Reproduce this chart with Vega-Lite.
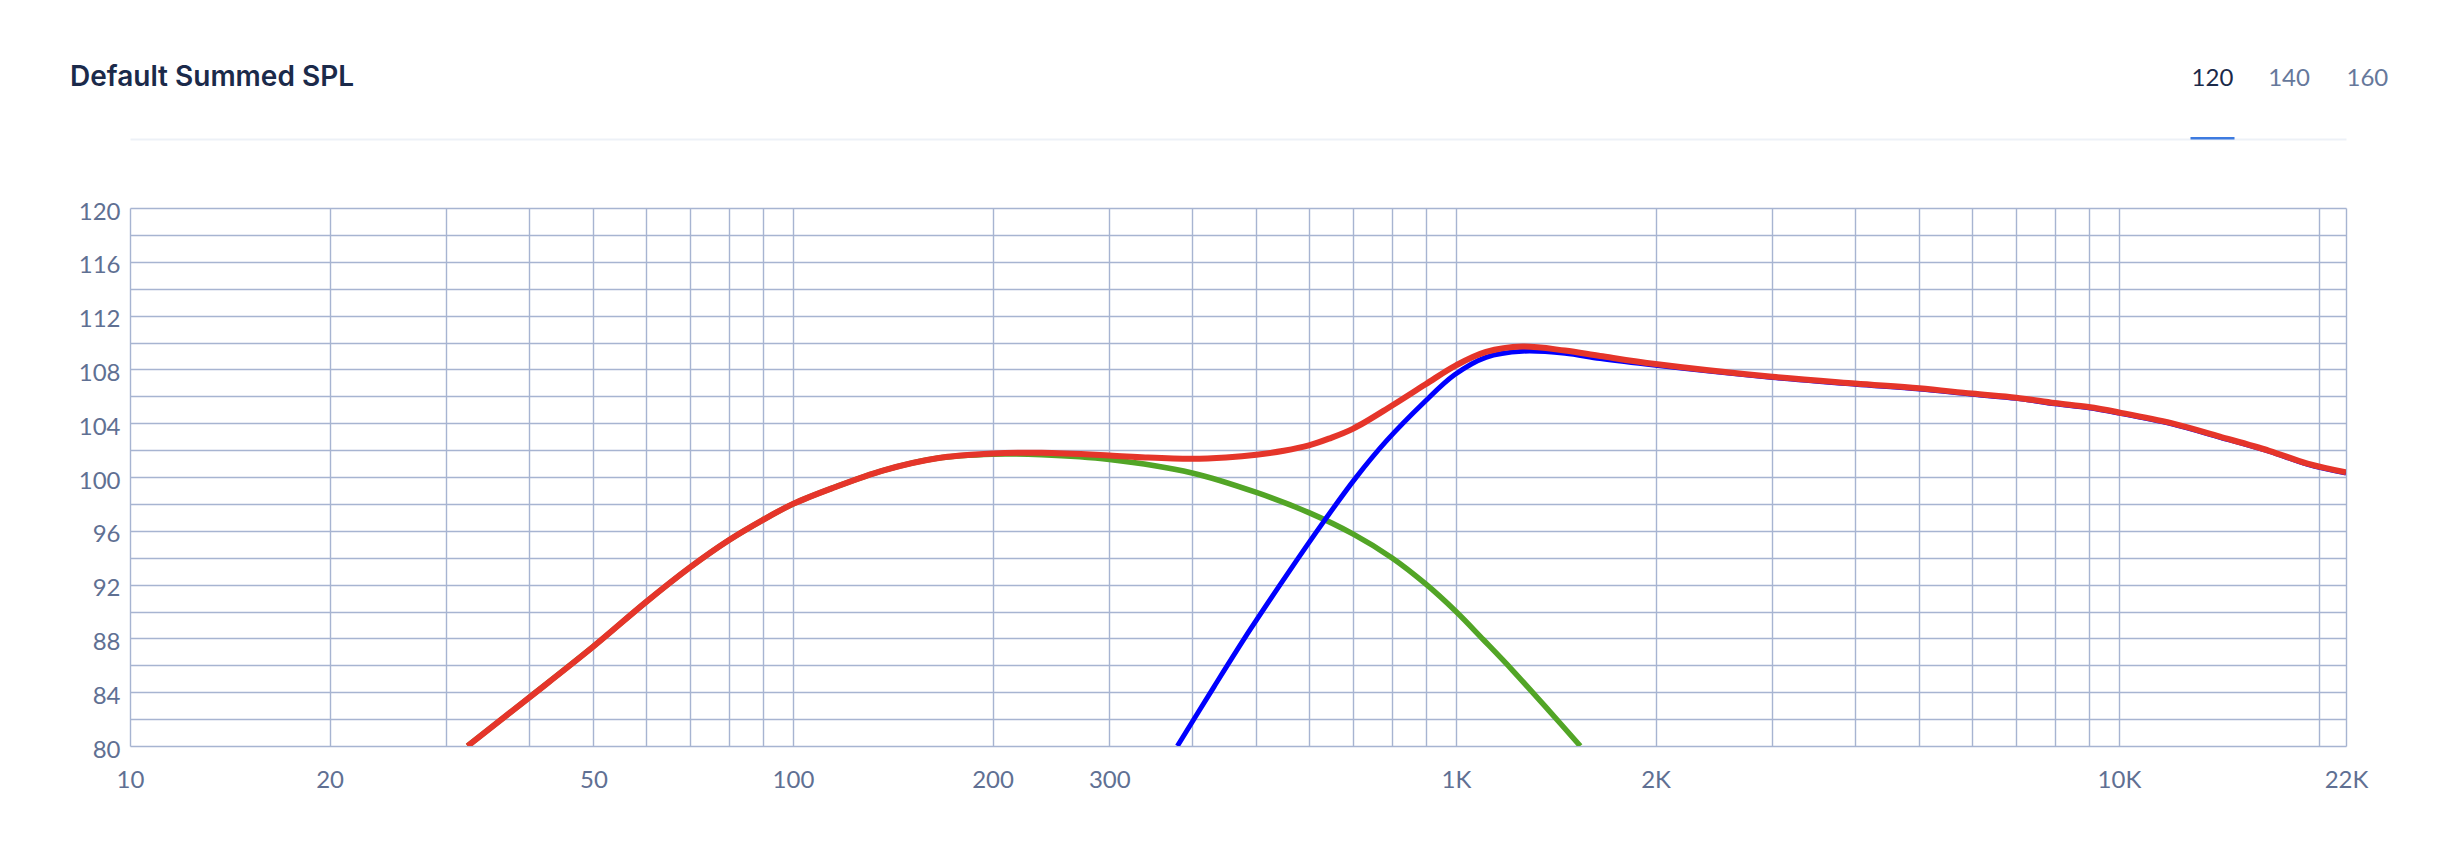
{
  "$schema": "https://vega.github.io/schema/vega-lite/v6.json",
  "width": 2216,
  "height": 538,
  "autosize": {"type": "none"},
  "padding": {"left": 130, "top": 208, "right": 116, "bottom": 114},
  "background": "#ffffff",
  "title": {"text": "Default Summed SPL", "anchor": "start", "frame": "group", "dx": -60, "offset": -48, "font": "Inter", "fontSize": 28, "fontWeight": 600, "color": "#1b2a4a", "baseline": "alphabetic"},
  "config": {"view": {"stroke": null}, "font": "Lato"},
  "data": {"values": [
    {"s": "low", "f": 32.3, "db": 80.0},
    {"s": "low", "f": 40, "db": 83.6},
    {"s": "low", "f": 50, "db": 87.4},
    {"s": "low", "f": 60, "db": 90.7},
    {"s": "low", "f": 70, "db": 93.3},
    {"s": "low", "f": 80, "db": 95.3},
    {"s": "low", "f": 90, "db": 96.8},
    {"s": "low", "f": 100, "db": 98.0},
    {"s": "low", "f": 115, "db": 99.2},
    {"s": "low", "f": 137, "db": 100.5},
    {"s": "low", "f": 165, "db": 101.4},
    {"s": "low", "f": 200, "db": 101.7},
    {"s": "low", "f": 237, "db": 101.65},
    {"s": "low", "f": 300, "db": 101.3},
    {"s": "low", "f": 400, "db": 100.3},
    {"s": "low", "f": 500, "db": 98.85},
    {"s": "low", "f": 600, "db": 97.35},
    {"s": "low", "f": 700, "db": 95.75},
    {"s": "low", "f": 800, "db": 94.0},
    {"s": "low", "f": 900, "db": 92.05},
    {"s": "low", "f": 1000, "db": 90.0},
    {"s": "low", "f": 1100, "db": 87.9},
    {"s": "low", "f": 1216, "db": 85.65},
    {"s": "low", "f": 1380, "db": 82.65},
    {"s": "low", "f": 1540, "db": 80.0},
    {"s": "high", "f": 380, "db": 80.0},
    {"s": "high", "f": 431.5, "db": 84.4},
    {"s": "high", "f": 490, "db": 88.7},
    {"s": "high", "f": 557, "db": 92.8},
    {"s": "high", "f": 632, "db": 96.7},
    {"s": "high", "f": 705, "db": 99.9},
    {"s": "high", "f": 786, "db": 102.7},
    {"s": "high", "f": 893, "db": 105.5},
    {"s": "high", "f": 995, "db": 107.6},
    {"s": "high", "f": 1110, "db": 108.9},
    {"s": "high", "f": 1260, "db": 109.35},
    {"s": "high", "f": 1460, "db": 109.2},
    {"s": "high", "f": 1650, "db": 108.8},
    {"s": "high", "f": 2000, "db": 108.3},
    {"s": "high", "f": 3000, "db": 107.4},
    {"s": "high", "f": 4000, "db": 106.9},
    {"s": "high", "f": 5000, "db": 106.55},
    {"s": "high", "f": 6000, "db": 106.15},
    {"s": "high", "f": 7000, "db": 105.85},
    {"s": "high", "f": 8000, "db": 105.45},
    {"s": "high", "f": 9000, "db": 105.15},
    {"s": "high", "f": 10000, "db": 104.75},
    {"s": "high", "f": 12000, "db": 103.95},
    {"s": "high", "f": 14200, "db": 102.95},
    {"s": "high", "f": 16850, "db": 101.9},
    {"s": "high", "f": 19250, "db": 100.95},
    {"s": "high", "f": 22000, "db": 100.3},
    {"s": "sum", "f": 32.3, "db": 80.0},
    {"s": "sum", "f": 40, "db": 83.6},
    {"s": "sum", "f": 50, "db": 87.4},
    {"s": "sum", "f": 60, "db": 90.7},
    {"s": "sum", "f": 70, "db": 93.3},
    {"s": "sum", "f": 80, "db": 95.3},
    {"s": "sum", "f": 90, "db": 96.8},
    {"s": "sum", "f": 100, "db": 98.0},
    {"s": "sum", "f": 115, "db": 99.2},
    {"s": "sum", "f": 137, "db": 100.5},
    {"s": "sum", "f": 165, "db": 101.4},
    {"s": "sum", "f": 200, "db": 101.75},
    {"s": "sum", "f": 237, "db": 101.8},
    {"s": "sum", "f": 300, "db": 101.6},
    {"s": "sum", "f": 340, "db": 101.45},
    {"s": "sum", "f": 400, "db": 101.35},
    {"s": "sum", "f": 450, "db": 101.45},
    {"s": "sum", "f": 500, "db": 101.65},
    {"s": "sum", "f": 550, "db": 101.95},
    {"s": "sum", "f": 600, "db": 102.35},
    {"s": "sum", "f": 643, "db": 102.85},
    {"s": "sum", "f": 700, "db": 103.6},
    {"s": "sum", "f": 800, "db": 105.3},
    {"s": "sum", "f": 900, "db": 106.9},
    {"s": "sum", "f": 1000, "db": 108.3},
    {"s": "sum", "f": 1110, "db": 109.3},
    {"s": "sum", "f": 1260, "db": 109.7},
    {"s": "sum", "f": 1460, "db": 109.4},
    {"s": "sum", "f": 1650, "db": 109.0},
    {"s": "sum", "f": 2000, "db": 108.4},
    {"s": "sum", "f": 3000, "db": 107.45},
    {"s": "sum", "f": 4000, "db": 106.95},
    {"s": "sum", "f": 5000, "db": 106.6},
    {"s": "sum", "f": 6000, "db": 106.2},
    {"s": "sum", "f": 7000, "db": 105.9},
    {"s": "sum", "f": 8000, "db": 105.5},
    {"s": "sum", "f": 9000, "db": 105.2},
    {"s": "sum", "f": 10000, "db": 104.8},
    {"s": "sum", "f": 12000, "db": 104.0},
    {"s": "sum", "f": 14200, "db": 103.0},
    {"s": "sum", "f": 16850, "db": 101.95},
    {"s": "sum", "f": 19250, "db": 101.0},
    {"s": "sum", "f": 22000, "db": 100.35}
  ]},
  "resolve": {"axis": {"x": "independent", "y": "independent"}},
  "layer": [
    {
      "transform": [{"filter": "datum.s === 'low'"}],
      "mark": {"type": "line", "color": "#52a526", "strokeWidth": 5.5, "interpolate": "catmull-rom", "clip": true},
      "encoding": {
        "x": {"field": "f", "type": "quantitative", "scale": {"type": "log", "domain": [10, 22000], "nice": false},
          "axis": {"orient": "bottom", "title": null,
            "values": [10,20,30,40,50,60,70,80,90,100,200,300,400,500,600,700,800,900,1000,2000,3000,4000,5000,6000,7000,8000,9000,10000,20000,22000],
            "labelExpr": "indexof([10,20,50,100,200,300,1000,2000,10000,22000], datum.value) >= 0 ? (datum.value >= 1000 ? (datum.value / 1000) + 'K' : '' + datum.value) : ''",
            "grid": true, "gridColor": "#a7b4d1", "gridWidth": 1.4, "ticks": false, "tickSize": 0, "domain": false,
            "labelFont": "Lato", "labelFontSize": 24, "labelColor": "#5f7093", "labelBaseline": "alphabetic", "labelPadding": 41,
            "labelFlush": false, "labelOverlap": false, "labelBound": false}},
        "y": {"field": "db", "type": "quantitative", "scale": {"domain": [80, 120], "nice": false, "zero": false},
          "axis": {"title": null, "values": [80,82,84,86,88,90,92,94,96,98,100,102,104,106,108,110,112,114,116,118,120],
            "labelExpr": "datum.value % 4 === 0 ? datum.label : ''",
            "grid": true, "gridColor": "#a7b4d1", "gridWidth": 1.4, "ticks": false, "tickSize": 0, "domain": false,
            "labelFont": "Lato", "labelFontSize": 24, "labelColor": "#5f7093", "labelPadding": 10, "labelOffset": 4,
            "labelOverlap": false, "labelBound": false, "labelFlush": false}}
      }
    },
    {
      "transform": [{"filter": "datum.s === 'high'"}],
      "mark": {"type": "line", "color": "#0000ff", "strokeWidth": 5, "interpolate": "catmull-rom", "clip": true},
      "encoding": {
        "x": {"field": "f", "type": "quantitative", "scale": {"type": "log", "domain": [10, 22000], "nice": false},
          "axis": {"orient": "top", "title": null, "offset": 69, "domain": true, "domainColor": "#edf1f7", "domainWidth": 2,
            "ticks": false, "labels": false, "grid": false}},
        "y": {"field": "db", "type": "quantitative", "scale": {"domain": [80, 120], "nice": false, "zero": false}, "axis": null}
      }
    },
    {
      "transform": [{"filter": "datum.s === 'sum'"}],
      "mark": {"type": "line", "color": "#e5352a", "strokeWidth": 6, "interpolate": "catmull-rom", "clip": true},
      "encoding": {
        "x": {"field": "f", "type": "quantitative", "scale": {"type": "log", "domain": [10, 22000], "nice": false},
          "axis": {"orient": "top", "title": null, "values": [13810, 18020, 22000],
            "labelExpr": "datum.value < 15000 ? '120' : (datum.value < 20000 ? '140' : '160')",
            "grid": false, "offset": 69, "domain": false,
            "ticks": true, "tickSize": 2.5, "tickWidth": 44, "tickCap": "butt",
            "tickColor": {"condition": {"test": "datum.value < 15000", "value": "#3d7be0"}, "value": "rgba(0,0,0,0)"},
            "labelColor": {"condition": {"test": "datum.value < 15000", "value": "#1b2a4a"}, "value": "#66789b"},
            "labelAlign": {"condition": {"test": "datum.value > 21000", "value": "left"}, "value": "center"},
            "labelBaseline": "alphabetic", "labelPadding": 51.5, "labelFont": "Lato", "labelFontSize": 24,
            "labelFlush": false, "labelOverlap": false, "labelBound": false}},
        "y": {"field": "db", "type": "quantitative", "scale": {"domain": [80, 120], "nice": false, "zero": false}, "axis": null}
      }
    }
  ]
}
